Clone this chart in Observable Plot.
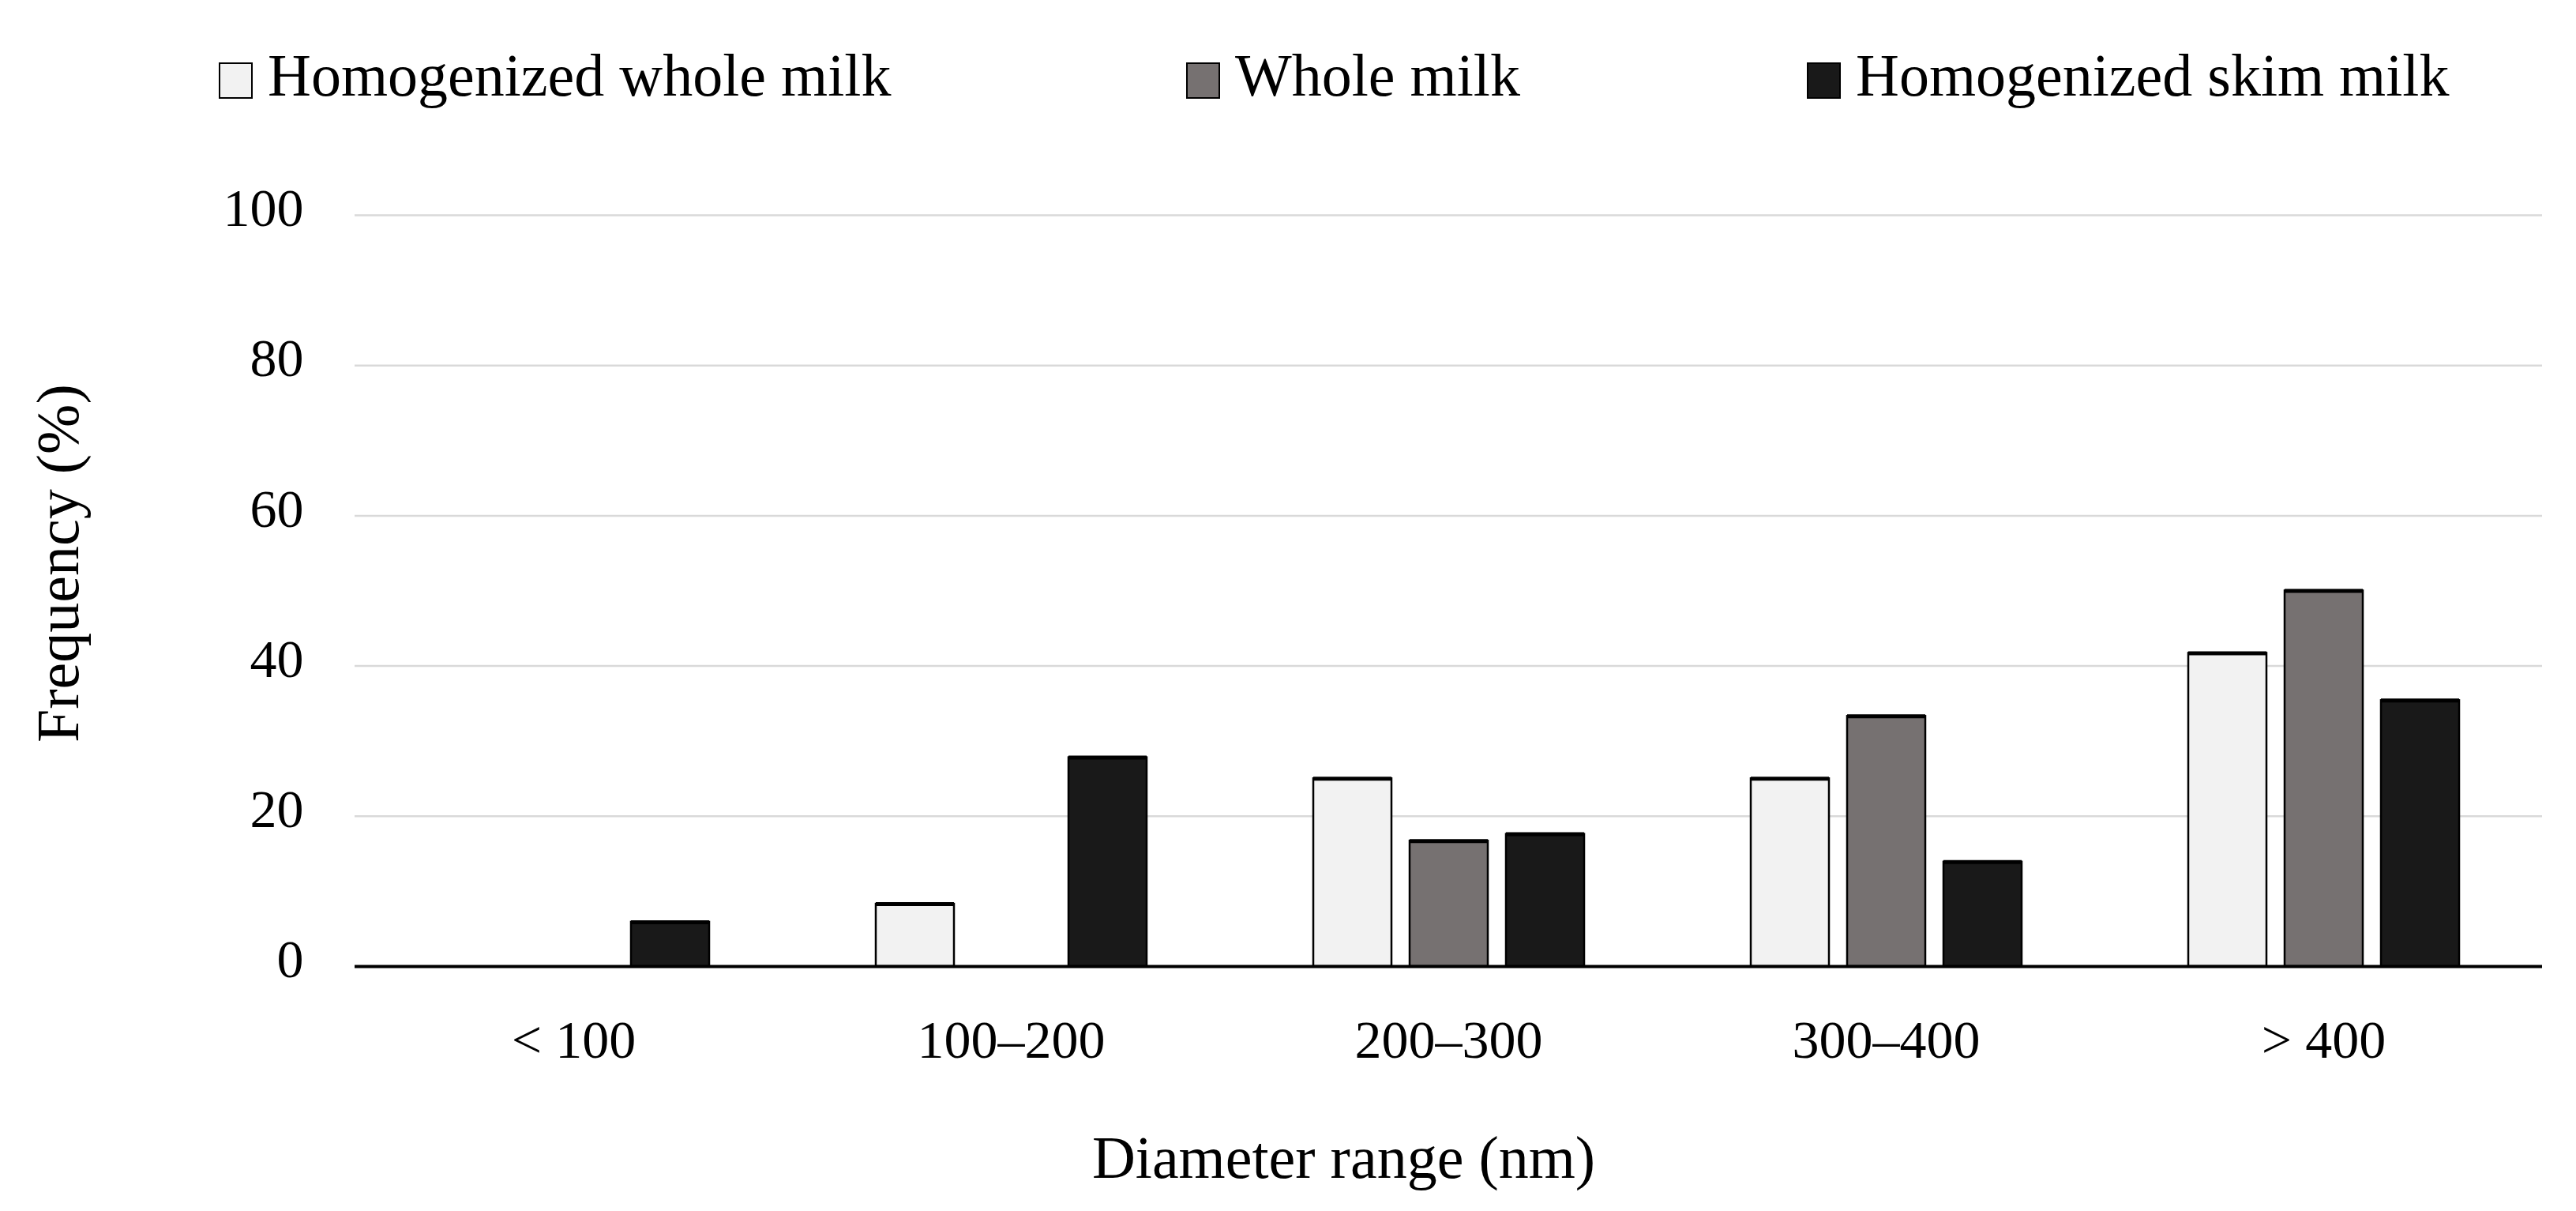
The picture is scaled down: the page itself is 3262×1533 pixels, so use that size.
<!DOCTYPE html>
<html><head><meta charset="utf-8">
<script src="https://cdn.jsdelivr.net/npm/d3@7"></script>
<script src="https://cdn.jsdelivr.net/npm/@observablehq/plot@0.6"></script>
<style>
html,body{margin:0;padding:0;background:#fff;}
body{width:3262px;height:1533px;overflow:hidden;font-family:"Liberation Serif",serif;}
#legend{position:relative;height:160px;}
.item{position:absolute;top:0;height:190px;display:flex;align-items:center;font-size:76px;color:#000;white-space:nowrap;}
.sw{width:39px;height:42px;border:2.5px solid #000;margin-right:19px;margin-top:14px;box-sizing:content-box;}
#chart svg{display:block;}
</style></head><body>
<div id="legend"></div>
<div id="chart"></div>
<script>
const categories = ["< 100", "100–200", "200–300", "300–400", "> 400"];
const seriesNames = ["Homogenized whole milk", "Whole milk", "Homogenized skim milk"];
const homogenizedWhole = [0, 8.3, 25, 25, 41.7];
const whole = [0, 0, 16.7, 33.3, 50];
const homogenizedSkim = [5.9, 27.8, 17.6, 13.9, 35.4];
const yTicks = [0, 20, 40, 60, 80, 100];
const colors = ["#f2f2f2", "#767171", "#191919"];
const xLabel = "Diameter range (nm)";
const yLabel = "Frequency (%)";

const seriesValues = [homogenizedWhole, whole, homogenizedSkim];
const data = categories.flatMap((c, i) =>
  seriesNames.map((s, j) => ({category: c, series: s, value: seriesValues[j][i]})));

// Legend (HTML, above the SVG)
const legendLefts = [277, 1502, 2288];
const legend = document.getElementById("legend");
seriesNames.forEach((s, j) => {
  const it = document.createElement("div");
  it.className = "item";
  it.style.left = legendLefts[j] + "px";
  const sw = document.createElement("span");
  sw.className = "sw";
  sw.style.background = colors[j];
  const tx = document.createElement("span");
  tx.textContent = s;
  it.appendChild(sw); it.appendChild(tx);
  legend.appendChild(it);
});

const font = '"Liberation Serif", serif';
const chart = Plot.plot({
  width: 3262, height: 1373,
  marginTop: 112, marginBottom: 310, marginLeft: 447, marginRight: 42,
  style: {fontFamily: font, fontSize: "68px", color: "#000", background: "#fff"},
  fx: {domain: categories, padding: 0, label: null, axis: null},
  x: {domain: seriesNames, paddingInner: 0.19, paddingOuter: 0.86, axis: null},
  y: {domain: [0, 100], axis: null},
  color: {domain: seriesNames, range: colors},
  marks: [
    Plot.gridY(yTicks.filter(d => d > 0), {stroke: "#d9d9d9", strokeOpacity: 1, strokeWidth: 2.5}),
    Plot.axisY(yTicks, {tickSize: 0, tickPadding: 65, label: null, fontSize: 68, dy: -8}),
    Plot.axisFx({anchor: "bottom", tickSize: 0, tickPadding: 67, label: null, fontSize: 68}),
    Plot.barY(data, {fx: "category", x: "series", y: "value", fill: "series", stroke: "#000", strokeWidth: 2.5}),
    Plot.tickY(data.filter(d => d.value > 0), {fx: "category", x: "series", y: "value", stroke: "#000", strokeWidth: 5}),
    Plot.ruleY([0], {stroke: "#000", strokeWidth: 4}),
    Plot.text([xLabel], {facet: "super", frameAnchor: "bottom", lineAnchor: "middle", dy: 243, dx: -133, fontSize: 76, fill: "#000"}),
    Plot.text([yLabel], {facet: "super", frameAnchor: "left", lineAnchor: "middle", rotate: -90, dx: -375, dy: 192, fontSize: 76, fill: "#000"})
  ]
});
document.getElementById("chart").appendChild(chart);
</script>
</body></html>
